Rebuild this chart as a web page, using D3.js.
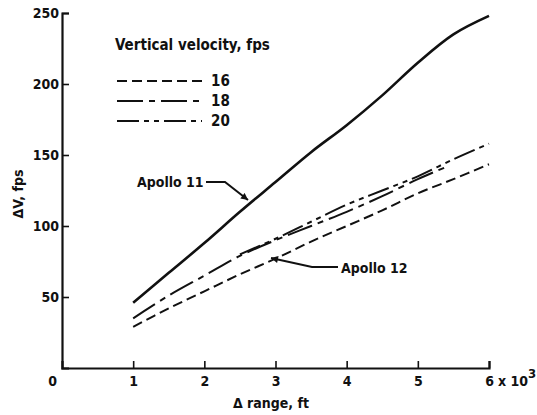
<!DOCTYPE html>
<html>
<head>
<meta charset="utf-8">
<script src="https://cdn.jsdelivr.net/npm/d3@7"></script>
<style>
  html, body { margin: 0; padding: 0; background: #fff; }
  svg text { font-family: "DejaVu Sans Condensed", "Liberation Sans Narrow", "DejaVu Sans", sans-serif; fill: #111; font-weight: bold; }
</style>
</head>
<body>
<svg id="chart" width="537" height="415"></svg>
<script>
// ---- data ----
const apollo11X = [1, 1.5, 2, 2.5, 3, 3.5, 4, 4.5, 5, 5.5, 6];
const apollo11Y = [46, 67, 88, 110, 131, 152, 171, 192, 215, 235, 248];

const v16X = [1, 1.5, 2, 2.5, 3, 3.5, 4, 4.5, 5, 5.5, 6];
const v16Y = [29, 42, 54, 66, 77, 89, 100, 111, 123, 133, 143.5];

const v18X = [1, 1.5, 2, 2.5, 3, 3.5, 4, 4.5, 5, 5.37];
const v18Y = [35, 51, 65, 79, 90, 100, 110, 121, 133, 141];

const v20X = [2.5, 3, 3.5, 4, 4.5, 5, 5.5, 6];
const v20Y = [80, 91, 103, 115, 125, 135, 147, 158];

const xTicks = [0, 1, 2, 3, 4, 5, 6];
const yTicks = [50, 100, 150, 200, 250];
const legendLabels = ["16", "18", "20"];
const legendTitle = "Vertical velocity, fps";
const xTitle = "\u0394 range, ft";
const yTitle = "\u0394V, fps";

// ---- drawing ----
const svg = d3.select("#chart");
const x = d3.scaleLinear().domain([0, 6]).range([62, 489]);
const y = d3.scaleLinear().domain([0, 250]).range([368, 13]);

const dashes = { "16": "10,5", "18": "26,6,6,6", "20": "22,5,5,5,5,5" };
const FONT = "DejaVu Sans Condensed, Liberation Sans Narrow, sans-serif";

// axes
const xAxis = d3.axisBottom(x).tickValues(xTicks).tickSize(-7).tickPadding(10)
  .tickFormat(d => d);
const gx = svg.append("g").attr("transform", `translate(0,${y(0)})`).call(xAxis);
gx.select(".domain").attr("stroke", "#111").attr("stroke-width", 2.2);
gx.selectAll(".tick line").attr("stroke", "#111").attr("stroke-width", 1.6);
gx.selectAll(".tick text").attr("font-size", 14).attr("dy", "0.6em")
  .attr("font-family", FONT).attr("font-weight", "bold");
gx.selectAll(".tick").filter(d => d === 0).select("text").attr("x", -10);
gx.selectAll(".tick").filter(d => d === 0).select("line").remove();
// "x 10^3" suffix after the 6
const suf = svg.append("text").attr("x", x(6) + 9).attr("y", y(0) + 10 + 8.4)
  .attr("font-size", 14);
suf.append("tspan").text("x 10");
suf.append("tspan").attr("dy", -8).attr("font-size", 13).text("3");

const yAxis = d3.axisLeft(y).tickValues(yTicks).tickSize(-7).tickPadding(3);
const gy = svg.append("g").attr("transform", `translate(${x(0)},0)`).call(yAxis);
gy.select(".domain").attr("stroke", "#111").attr("stroke-width", 2.2);
gy.selectAll(".tick line").attr("stroke", "#111").attr("stroke-width", 1.6);
gy.selectAll(".tick text").attr("font-size", 14)
  .attr("font-family", FONT).attr("font-weight", "bold");

// axis titles
svg.append("text").attr("x", 271).attr("y", 408).attr("text-anchor", "middle")
  .attr("font-size", 14).text(xTitle);
svg.append("text").attr("transform", "translate(23,194) rotate(-90)")
  .attr("text-anchor", "middle").attr("font-size", 14).text(yTitle);

// lines
const line = d3.line().x(d => x(d[0])).y(d => y(d[1])).curve(d3.curveCatmullRom.alpha(0.5));
const zip = (a, b) => a.map((v, i) => [v, b[i]]);

svg.append("path").datum(zip(apollo11X, apollo11Y)).attr("d", line)
  .attr("fill", "none").attr("stroke", "#111").attr("stroke-width", 2.6);
svg.append("path").datum(zip(v16X, v16Y)).attr("d", line)
  .attr("fill", "none").attr("stroke", "#111").attr("stroke-width", 2)
  .attr("stroke-dasharray", dashes["16"]);
svg.append("path").datum(zip(v18X, v18Y)).attr("d", line)
  .attr("fill", "none").attr("stroke", "#111").attr("stroke-width", 2)
  .attr("stroke-dasharray", dashes["18"]);
svg.append("path").datum(zip(v20X, v20Y)).attr("d", line)
  .attr("fill", "none").attr("stroke", "#111").attr("stroke-width", 2)
  .attr("stroke-dasharray", dashes["20"]);

// legend
svg.append("text").attr("x", 115).attr("y", 50).attr("font-size", 15).text(legendTitle);
legendLabels.forEach((lab, i) => {
  const yy = 81 + i * 20;
  svg.append("line").attr("x1", 117).attr("x2", 202).attr("y1", yy).attr("y2", yy)
    .attr("stroke", "#111").attr("stroke-width", 2).attr("stroke-dasharray", dashes[lab]);
  svg.append("text").attr("x", 211).attr("y", yy + 5).attr("font-size", 15).text(lab);
});

// arrow marker
svg.append("defs").append("marker").attr("id", "arr")
  .attr("viewBox", "0 0 10 10").attr("refX", 10).attr("refY", 5)
  .attr("markerWidth", 9).attr("markerHeight", 7).attr("orient", "auto")
  .attr("markerUnits", "userSpaceOnUse")
  .append("path").attr("d", "M0,0 L10,5 L0,10 Z").attr("fill", "#111");

// annotations
svg.append("text").attr("x", 137).attr("y", 187).attr("font-size", 14).text("Apollo 11");
svg.append("path").attr("d", "M206,182 L225,182 L248,200")
  .attr("fill", "none").attr("stroke", "#111").attr("stroke-width", 2)
  .attr("marker-end", "url(#arr)");

svg.append("text").attr("x", 341).attr("y", 273).attr("font-size", 14).text("Apollo 12");
svg.append("path").attr("d", "M338,267 L312,267 L271,258")
  .attr("fill", "none").attr("stroke", "#111").attr("stroke-width", 1.8)
  .attr("marker-end", "url(#arr)");
</script>
</body>
</html>
